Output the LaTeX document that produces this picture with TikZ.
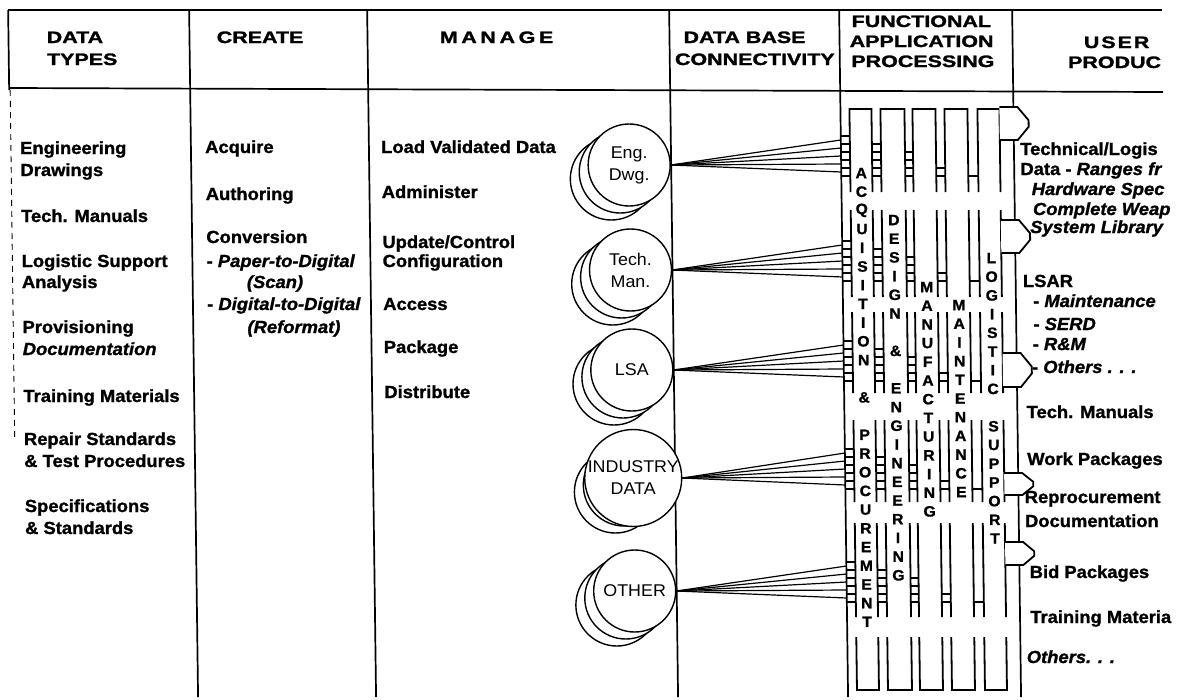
\documentclass[tikz,border=0pt]{standalone}
\usepackage{fontspec}
\setmainfont{Liberation Sans}[FakeStretch=1.05,
    BoldFeatures={FakeBold=1.3}, BoldItalicFeatures={FakeBold=1.3}]
\newfontfamily\headfont{Liberation Sans}[FakeStretch=1.3, BoldFeatures={FakeBold=1.6}]

\tikzset{
  regla/.style={line width=1.7pt},
  cabecera/.style={anchor=base, inner sep=0pt, font=\headfont\bfseries\fontsize{16.5}{20}\selectfont},
  item/.style={anchor=base west, inner sep=0pt, font=\bfseries\fontsize{17.5}{21}\selectfont},
  dbcirculo/.style={circle, draw, line width=1.4pt, fill=white, minimum size=82pt, inner sep=0pt,
    align=center, font=\fontsize{17}{22}\selectfont},
  letra/.style={inner sep=0pt, font=\bfseries\fontsize{15}{15}\selectfont},
  pared/.style={line width=1.8pt},
  peldano/.style={line width=1.3pt},
  haz/.style={line width=1.2pt},
}

\begin{document}
\begin{tikzpicture}[x=1pt, y={(0.013pt,-1pt)}]
    \useasboundingbox (0pt,0pt) rectangle (1182pt,-699pt);

    % Marco y columnas
    \draw[regla] (8,10) -- (1162,10);
    \draw[regla] (8,88) -- (1162,92);
    \draw[regla] (8,10) -- (8,90);
    \draw[line width=0.9pt, dash pattern=on 6pt off 5pt] (9,90) -- (9,440);
    \foreach \xx in {189,367,669,839,1012}
        \draw[regla] (\xx,10) -- (\xx,697);

    % Cabeceras
    \node[cabecera, anchor=base west] (hdata) at (46,43) {DATA};
    \node[cabecera, anchor=base west] (htypes) at (46,65) {TYPES};
    \node[cabecera, anchor=base west] (hcreate) at (216,43) {CREATE};
    \node[cabecera] (hmanage) at (496,43) {\addfontfeature{LetterSpace=22}MANAGE};
    \node[cabecera] (hdbase) at (744,43) {DATA BASE};
    \node[cabecera] (hconn) at (754,65) {CONNECTIVITY};
    \node[cabecera] (hfunc) at (921,27) {FUNCTIONAL};
    \node[cabecera] (happl) at (921,47) {APPLICATION};
    \node[cabecera] (hproc) at (922,67) {PROCESSING};
    \node[cabecera] (huser) at (1116,48) {\addfontfeature{LetterSpace=12}USER};
    \node[cabecera, anchor=base west] (hprod) at (1067,68) {PRODUC};

    % Tipos de datos
    \foreach \t/\yy [count=\i] in {Engineering/154, Drawings/176, Tech. Manuals/222,
        Logistic Support/267, Analysis/288, Provisioning/333, \textit{Documentation}/355,
        Training Materials/402, Repair Standards/445, \& Test Procedures/467,
        Specifications/512, \& Standards/534}
        \node[item] (tipo\i) at (18,\yy) {\t};

    % Crear
    \foreach \t/\xx/\yy [count=\i] in {Acquire/203/153, Authoring/203/200, Conversion/203/243,
        {- \textit{Paper-to-Digital}}/203/267, \textit{(Scan)}/243/288,
        {- \textit{Digital-to-Digital}}/203/310, \textit{(Reformat)}/243/333}
        \node[item] (crear\i) at (\xx,\yy) {\t};

    % Gestionar
    \foreach \t/\yy [count=\i] in {Load Validated Data/153, Administer/198,
        {Update/Control}/248, Configuration/267, Access/310, Package/353, Distribute/398}
        \node[item] (gest\i) at (379,\yy) {\t};

    % Bases de datos y haces de conexiones
    \foreach \nm/\yy/\txt in {eng/165/{Eng.\\Dwg.}, tman/270/{Tech.\\Man.}, lsa/370/LSA,
        ind/478/{INDUSTRY\\DATA}, oth/591/OTHER} {
        \draw[line width=1.4pt, fill=white] (609,\yy+14) circle[radius=41pt];
        \draw[line width=1.4pt, fill=white] (618,\yy+7) circle[radius=41pt];
        \node[dbcirculo] (\nm) at (627,\yy) {\txt};
        \foreach \k in {0,...,4} {
            \coordinate (\nm-\k) at (839,\yy-25+8*\k);
            \draw[haz] (\nm.east) -- (\nm-\k);
        }
    }

    % Canales de procesamiento
    \foreach \xl/\xr in {848/870, 879/903, 911/934, 943/966, 976/998} {
        \draw[pared] (\xl,192) -- (\xl,109) -- (\xr,109) -- (\xr,192);
        \foreach \ta/\tb in {210/297, 312/393, 420/502, 523/617}
            \draw[pared] (\xl,\ta) -- (\xl,\tb) (\xr,\ta) -- (\xr,\tb);
        \draw[pared] (\xl,637) -- (\xl,690) -- (\xr,690) -- (\xr,637);
    }
    % Escaleras entre canales
    \foreach \yy in {165,270,370,478,591}
        \foreach \ga/\gb/\n in {839/848/5, 870/879/4, 903/911/3, 934/943/1, 966/976/0}
            \foreach \i in {0,...,\n}
                \draw[peldano] (\ga,\yy+11-8*\i) -- (\gb,\yy+11-8*\i);

    % Salidas hacia productos
    \foreach \ta/\tb in {107/140, 220/253, 353/387, 473/495, 542/565}
        \draw[pared, fill=white] (998,\ta) -- (1016,\ta) -- (1027,{\ta+0.4*(\tb-\ta)})
            -- (1027,{\ta+0.6*(\tb-\ta)}) -- (1016,\tb) -- (998,\tb);

    % Letras verticales
    \foreach \l [count=\i from 0] in {A,C,Q,U,I,S,I,T,I,O,N,{},\&,{},P,R,O,C,U,R,E,M,E,N,T}
        \node[letra] (acq\i) at (859,173+18.7*\i) {\l};
    \foreach \l [count=\i from 0] in {D,E,S,I,G,N,{},\&,{},E,N,G,I,N,E,E,R,I,N,G}
        \node[letra] (dis\i) at (891,220+18.7*\i) {\l};
    \foreach \l [count=\i from 0] in {M,A,N,U,F,A,C,T,U,R,I,N,G}
        \node[letra] (man\i) at (923,287+18.7*\i) {\l};
    \foreach \l [count=\i from 0] in {M,A,I,N,T,E,N,A,N,C,E}
        \node[letra] (mnt\i) at (955,305+18.7*\i) {\l};
    \foreach \l [count=\i from 0] in {L,O,G,I,S,T,I,C,{},S,U,P,P,O,R,T}
        \node[letra] (log\i) at (988,258+18.7*\i) {\l};

    % Productos de usuario
    \foreach \t/\xx/\yy [count=\i] in {{Technical/Logis}/1018/155, {Data - \textit{Ranges fr}}/1018/175,
        \textit{Hardware Spec}/1029/195, \textit{Complete Weap}/1030/215,
        \textit{System Library}/1027/233, LSAR/1019/287, {- \textit{Maintenance}}/1029/307,
        {- \textit{SERD}}/1029/330, {- \textit{R\&M}}/1028/350, {- \textit{Others . . .}}/1027/373,
        Tech. Manuals/1021/418, Work Packages/1021/465, Reprocurement/1018/503,
        Documentation/1018/527, Bid Packages/1022/578, Training Materia/1022/623,
        \textit{Others. . .}/1018/663}
        \node[item] (prod\i) at (\xx,\yy) {\t};
\end{tikzpicture}
\end{document}
